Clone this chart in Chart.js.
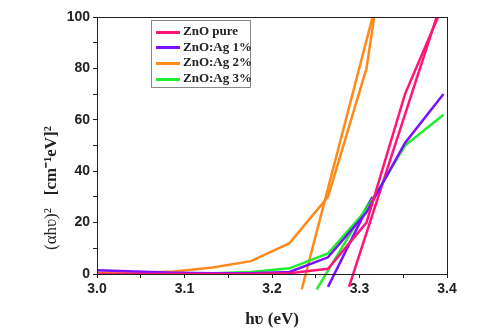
<!DOCTYPE html>
<html>
<head>
<meta charset="utf-8">
<script src="https://cdn.jsdelivr.net/npm/chart.js@4/dist/chart.umd.min.js"></script>
<style>
  html, body { margin: 0; padding: 0; background: #fff; }
  #wrap { position: relative; width: 493px; height: 334px; }
  #legend {
    position: absolute; left: 151px; top: 20px; width: 100px; height: 68px;
    border: 1px solid #888; background: #fff; box-sizing: border-box;
    font: bold 13px "Liberation Serif", serif; color: #222; padding: 2px 0 0 4px;
  }
  #legend div { height: 15.7px; line-height: 15.7px; white-space: nowrap; }
  #legend span { display: inline-block; width: 24px; height: 3px; vertical-align: middle; margin-right: 3px; }
</style>
</head>
<body>
<div id="wrap">
  <canvas id="absChart" width="493" height="334"></canvas>
  <div id="legend"></div>
</div>
<script>
// photon energy (eV)
const energy = [3.0, 3.044, 3.088, 3.132, 3.176, 3.22, 3.264, 3.308, 3.352, 3.396];
const znoPure = [0, 0, 0, 0, 0, 0.3, 2, 20, 70, 105];
const znoAg1 = [1.5, 1, 0.5, 0.3, 0.3, 0.8, 6.5, 24, 51, 70];
const znoAg2 = [0.5, 0.5, 1.0, 2.5, 5, 12, 30, 80, 180, 300];
const znoAg3 = [0, 0, 0, 0.3, 0.8, 2.2, 8, 25, 50, 62];

// tangent (Tauc extrapolation) lines: [x, y] end points
const fitPure = [[3.288, -5], [3.392, 104]];
const fitAg1 = [[3.264, -5], [3.315, 30]];
const fitAg2 = [[3.234, -6], [3.318, 104]];
const fitAg3 = [[3.251, -6], [3.315, 30]];

const labels = ["ZnO pure", "ZnO:Ag 1%", "ZnO:Ag 2%", "ZnO:Ag 3%"];
const colors = ["#ff1478", "#7a10ff", "#ff8a1c", "#22ee30"];

const xTicks = [3.0, 3.1, 3.2, 3.3, 3.4];

const series = [znoPure, znoAg1, znoAg2, znoAg3];
const fits = [fitPure, fitAg1, fitAg2, fitAg3];

const datasets = [];
series.forEach((vals, i) => {
  datasets.push({
    label: labels[i],
    data: energy.map((x, j) => ({ x: x, y: vals[j] })),
    borderColor: colors[i],
    borderWidth: 2.5,
    pointRadius: 0,
    tension: 0
  });
});
fits.forEach((pts, i) => {
  datasets.push({
    label: labels[i] + " fit",
    data: pts.map(p => ({ x: p[0], y: p[1] })),
    borderColor: colors[i],
    borderWidth: 2.5,
    pointRadius: 0,
    clip: { left: 0, top: 0, right: 0, bottom: 18 }
  });
});

document.getElementById("legend").innerHTML = labels.map((l, i) =>
  '<div><span style="background:' + colors[i] + '"></span>' + l + '</div>').join("");

const frame = {
  id: "frame",
  afterDraw(chart) {
    const a = chart.chartArea, c = chart.ctx;
    c.save();
    c.strokeStyle = "#222";
    c.lineWidth = 1;
    c.strokeRect(a.left + 0.5, a.top + 0.5, a.right - a.left, a.bottom - a.top);

    // y axis title: regular "(αhυ)²" followed by bold "[cm⁻¹eV]²"
    c.translate(52, 250);
    c.rotate(-Math.PI / 2);
    c.fillStyle = "#222";
    c.textAlign = "left";
    c.textBaseline = "middle";
    c.font = "17px 'Liberation Serif', serif";
    const first = "(\u03b1h\u028b)\u00b2";
    c.fillText(first, 0, 0);
    const w = c.measureText(first).width;
    c.font = "bold 17px 'Liberation Serif', serif";
    c.fillText("[cm\u207b\u00b9eV]\u00b2", w + 13, 0);
    c.restore();
  }
};

const tickFont = { family: "'Liberation Sans', Arial, sans-serif", size: 14, weight: "bold" };
const titleFont = { family: "'Liberation Serif', 'Times New Roman', serif", size: 17, weight: "bold" };

new Chart(document.getElementById("absChart"), {
  type: "line",
  data: { datasets: datasets },
  options: {
    responsive: false,
    animation: false,
    layout: { padding: { left: 0, top: 17, right: 46, bottom: 0 } },
    plugins: { legend: { display: false }, tooltip: { enabled: false } },
    scales: {
      x: {
        type: "linear",
        min: 3.0,
        max: 3.4,
        afterBuildTicks: s => { s.ticks = [3.0, 3.05, 3.1, 3.15, 3.2, 3.25, 3.3, 3.35, 3.4].map(v => ({ value: v })); },
        afterFit: s => { s.height = 60; },
        ticks: {
          color: "#222",
          font: tickFont,
          padding: 3,
          maxRotation: 0,
          callback: v => xTicks.some(t => Math.abs(t - v) < 1e-6) ? v.toFixed(1) : ""
        },
        grid: { drawOnChartArea: false, tickLength: 4, color: "#222" },
        border: { color: "#222" },
        title: { display: true, text: "h\u028b (eV)", color: "#222", font: titleFont, padding: { top: 6 } }
      },
      y: {
        min: 0,
        max: 100,
        ticks: {
          stepSize: 10,
          color: "#222",
          font: tickFont,
          padding: 3,
          callback: v => v % 20 === 0 ? v : ""
        },
        afterFit: s => { s.width = 97; },
        grid: { drawOnChartArea: false, tickLength: 4, color: "#222" },
        border: { color: "#222" }
      }
    }
  },
  plugins: [frame]
});
</script>
</body>
</html>
